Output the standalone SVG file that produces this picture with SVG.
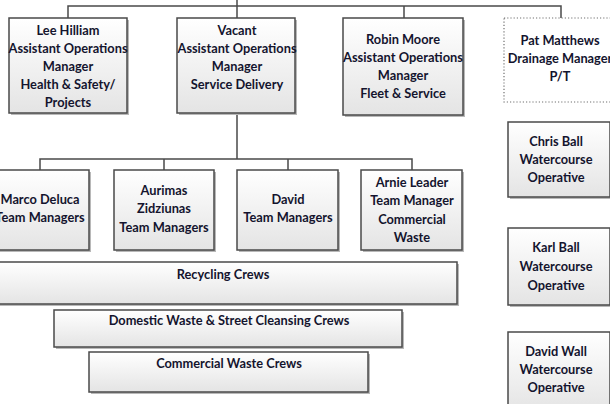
<svg xmlns="http://www.w3.org/2000/svg" width="610" height="404" viewBox="0 0 610 404">
<defs>
<linearGradient id="g" x1="0" y1="0" x2="0" y2="1">
<stop offset="0" stop-color="#ffffff"/>
<stop offset="1" stop-color="#e4e4e4"/>
</linearGradient>
</defs>
<style>
.box{fill:url(#g);stroke:#4a4a4a;stroke-width:1.5}
.sh{fill:#b8b8b8}
.dot{fill:#ffffff;stroke:#707070;stroke-width:1.2;stroke-dasharray:1.2 2}
.ln{stroke:#4a4a4a;stroke-width:1.5;fill:none}
text{font-family:Lato,"Liberation Sans",sans-serif;font-weight:bold;font-size:12.8px;fill:#14142e;text-anchor:middle}
</style>
<rect width="610" height="404" fill="#ffffff"/>
<g id="connectors">
<path class="ln" d="M68,18 V6 H561 V18 M237,0 V18 M404,6 V18 M237,113 V159 M40,170 V159 H412 V170 M164,159 V170 M288,159 V170"/>
</g>
<g id="lee">
<rect class="sh" x="11" y="20" width="118" height="95"/>
<rect class="box" x="9" y="18" width="118" height="95"/>
<text x="68" y="35">Lee Hilliam</text>
<text x="68" y="53" textLength="119" lengthAdjust="spacingAndGlyphs">Assistant Operations</text>
<text x="68" y="71">Manager</text>
<text x="68" y="89">Health &amp; Safety/</text>
<text x="68" y="107">Projects</text>
</g>
<g id="vacant">
<rect class="sh" x="179" y="20" width="118" height="95"/>
<rect class="box" x="177" y="18" width="118" height="95"/>
<text x="237" y="35">Vacant</text>
<text x="237" y="53" textLength="119" lengthAdjust="spacingAndGlyphs">Assistant Operations</text>
<text x="237" y="71">Manager</text>
<text x="237" y="89">Service Delivery</text>
</g>
<g id="robin">
<rect class="sh" x="345" y="20" width="120" height="97"/>
<rect class="box" x="343" y="18" width="120" height="97"/>
<text x="403" y="44">Robin Moore</text>
<text x="403" y="62" textLength="120" lengthAdjust="spacingAndGlyphs">Assistant Operations</text>
<text x="403" y="80">Manager</text>
<text x="403" y="98">Fleet &amp; Service</text>
</g>
<g id="pat">
<rect class="dot" x="504" y="18" width="112" height="84"/>
<text x="560" y="45">Pat Matthews</text>
<text x="560" y="63">Drainage Manager</text>
<text x="560" y="81">P/T</text>
</g>
<g id="marco">
<rect class="sh" x="-8" y="172" width="99" height="80"/>
<rect class="box" x="-10" y="170" width="99" height="80"/>
<text x="40" y="204">Marco Deluca</text>
<text x="40" y="222">Team Managers</text>
</g>
<g id="aurimas">
<rect class="sh" x="116" y="172" width="100" height="80"/>
<rect class="box" x="114" y="170" width="100" height="80"/>
<text x="164" y="195">Aurimas</text>
<text x="164" y="213">Zidziunas</text>
<text x="164" y="232">Team Managers</text>
</g>
<g id="david">
<rect class="sh" x="239" y="172" width="101" height="80"/>
<rect class="box" x="237" y="170" width="101" height="80"/>
<text x="288" y="204">David</text>
<text x="288" y="222">Team Managers</text>
</g>
<g id="arnie">
<rect class="sh" x="363" y="172" width="101" height="80"/>
<rect class="box" x="361" y="170" width="101" height="80"/>
<text x="412" y="187">Arnie Leader</text>
<text x="412" y="205">Team Manager</text>
<text x="412" y="224">Commercial</text>
<text x="412" y="242">Waste</text>
</g>
<g id="recycling">
<rect class="sh" x="-9" y="264" width="468" height="42"/>
<rect class="box" x="-11" y="262" width="468" height="42"/>
<text x="223" y="279">Recycling Crews</text>
</g>
<g id="domestic">
<rect class="sh" x="56" y="312" width="348" height="37"/>
<rect class="box" x="54" y="310" width="348" height="37"/>
<text x="229" y="325">Domestic Waste &amp; Street Cleansing Crews</text>
</g>
<g id="commercial">
<rect class="sh" x="91" y="354" width="279" height="40"/>
<rect class="box" x="89" y="352" width="279" height="40"/>
<text x="229" y="368">Commercial Waste Crews</text>
</g>
<g id="chris">
<rect class="sh" x="510" y="124" width="102" height="75"/>
<rect class="box" x="508" y="122" width="102" height="75"/>
<text x="556" y="146">Chris Ball</text>
<text x="556" y="164">Watercourse</text>
<text x="556" y="182">Operative</text>
</g>
<g id="karl">
<rect class="sh" x="510" y="230" width="102" height="77"/>
<rect class="box" x="508" y="228" width="102" height="77"/>
<text x="556" y="252">Karl Ball</text>
<text x="556" y="271">Watercourse</text>
<text x="556" y="290">Operative</text>
</g>
<g id="davidwall">
<rect class="sh" x="510" y="334" width="102" height="80"/>
<rect class="box" x="508" y="332" width="102" height="80"/>
<text x="556" y="356">David Wall</text>
<text x="556" y="374">Watercourse</text>
<text x="556" y="392">Operative</text>
</g>
</svg>
